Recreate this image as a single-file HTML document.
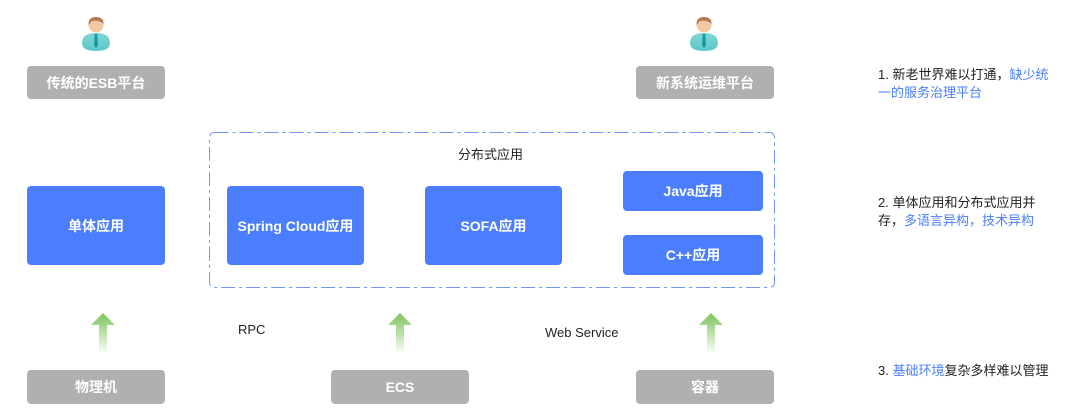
<!DOCTYPE html>
<html><head><meta charset="utf-8"><style>
body{margin:0;width:1080px;height:417px;background:#fff;position:relative;overflow:hidden;font-family:"Liberation Sans","Noto Sans CJK SC",sans-serif;}
.b{position:absolute;display:flex;align-items:center;justify-content:center;color:#fff;font-weight:bold;font-size:14px;border-radius:4px;}
.g{background:#b0b0b0;}
.bl{background:#4a7eff;}
.t{position:absolute;font-size:13px;color:#222;white-space:nowrap;}
.n{position:absolute;font-size:13px;color:#222;line-height:18px;}
.n span{color:#4a7eff;}
</style></head><body>
<svg width="1080" height="417" style="position:absolute;left:0;top:0">
<defs>
<linearGradient id="ag" x1="0" y1="0" x2="0" y2="1"><stop offset="0" stop-color="#7cc35a"/><stop offset="1" stop-color="#7cc35a" stop-opacity="0.05"/></linearGradient>
<linearGradient id="bd" x1="0" y1="0" x2="0" y2="1"><stop offset="0" stop-color="#7fd8d8"/><stop offset="1" stop-color="#5bc8cc"/></linearGradient>
<g id="p"><path d="M-14 18 Q-14 8 0 8 Q14 8 14 18 Q14 26 0 26 Q-14 26 -14 18Z" fill="url(#bd)"/><path d="M-1.5 9 L1.5 9 L2 20 L0 23 L-2 20Z" fill="#1a9a9a"/><circle cx="0" cy="0" r="7.5" fill="#f3c9a4"/><path d="M-7.5 0 Q-8 -8 0 -8 Q8 -8 7.5 -1 Q4 -5 -4 -4 Q-6 -2 -7.5 0Z" fill="#b97a56"/></g>
</defs>
<use href="#p" x="96" y="25"/>
<use href="#p" x="704" y="25"/>
<rect x="209.5" y="132.5" width="565" height="155" rx="5" fill="none" stroke="#6f97f5" stroke-width="1" stroke-dasharray="14,4,3,4"/>
<g fill="url(#ag)">
<path d="M103 313 L115 325 L107 325 L107 352 L99 352 L99 325 L91 325Z"/>
<path d="M400 313 L412 325 L404 325 L404 352 L396 352 L396 325 L388 325Z"/>
<path d="M711 313 L723 325 L715 325 L715 352 L707 352 L707 325 L699 325Z"/>
</g>
</svg>
<div class="b g" style="left:27px;top:66px;width:138px;height:33px">传统的ESB平台</div>
<div class="b g" style="left:636px;top:66px;width:138px;height:33px">新系统运维平台</div>
<div class="t" style="left:458px;top:144px">分布式应用</div>
<div class="b bl" style="left:27px;top:186px;width:138px;height:79px">单体应用</div>
<div class="b bl" style="left:227px;top:186px;width:137px;height:79px">Spring Cloud应用</div>
<div class="b bl" style="left:425px;top:186px;width:137px;height:79px">SOFA应用</div>
<div class="b bl" style="left:623px;top:171px;width:140px;height:40px">Java应用</div>
<div class="b bl" style="left:623px;top:235px;width:140px;height:40px">C++应用</div>
<div class="t" style="left:238px;top:322px">RPC</div>
<div class="t" style="left:545px;top:325px">Web Service</div>
<div class="b g" style="left:27px;top:370px;width:138px;height:34px">物理机</div>
<div class="b g" style="left:331px;top:370px;width:138px;height:34px">ECS</div>
<div class="b g" style="left:636px;top:370px;width:138px;height:34px">容器</div>
<div class="n" style="left:878px;top:66px;width:180px">1. 新老世界难以打通，<span>缺少统一的服务治理平台</span></div>
<div class="n" style="left:878px;top:194px;width:180px">2. 单体应用和分布式应用并存，<span>多语言异构，技术异构</span></div>
<div class="n" style="left:878px;top:362px;width:200px">3. <span>基础环境</span>复杂多样难以管理</div>
</body></html>
